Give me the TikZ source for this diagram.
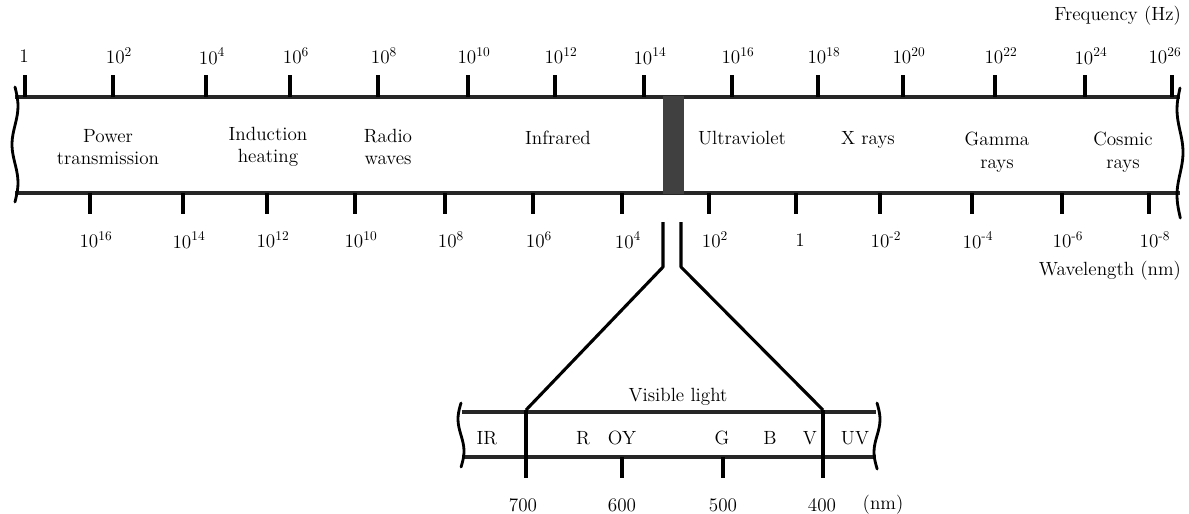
\documentclass[tikz,border=0pt]{standalone}
\usepackage{fontspec}
\begin{document}
\begin{tikzpicture}[x=0.025cm,y=-0.025cm,inner sep=0pt,outer sep=0pt,
lbl/.style={font=\fontsize{13.6}{16}\selectfont,align=center},
bandline/.style={line width=2.2pt,black!85},
tickline/.style={line width=2.4pt},
wavy/.style={line width=2pt,line cap=round},
zoomline/.style={line width=2.2pt,line join=round}]
\useasboundingbox (0,0) rectangle (1189,513);
% main band
\draw[bandline] (15,97) -- (1180,97);
\draw[bandline] (15,193) -- (1180,193);
\fill[black!75] (663,96) rectangle (684,194);
\draw[wavy] plot[smooth,domain=87:202,samples=30] ({15+3*sin(4.7*(\x-87))},\x);
\draw[wavy] plot[smooth,domain=88:218,samples=30] ({1180-3*sin(4.2*(\x-88))},\x);
% frequency scale
\draw[tickline] (25,75) -- (25,97);
\draw (24,56) node[lbl] (f0) {1};
\foreach \x/\e [count=\i] in {113/2,206/4,290/6,378/8,468/10,555/12,644/14,732/16,818/18,903/20,995/22,1085/24}{
  \draw[tickline] (\x,75) -- (\x,97);
  \draw (\x+6,56) node[lbl] (f\i) {10\textsuperscript{\e}};
}
\draw[tickline] (1172,75) -- (1172,97);
\draw (1165,56) node[lbl] (f13) {10\textsuperscript{26}};
\draw (1181,16) node[lbl,anchor=east] (fhz) {Frequency (Hz)};
% wavelength scale
\foreach \x/\e [count=\i] in {90/16,183/14,267/12,355/10,445/8,533/6,622/4,709/2,880/-2,972/-4,1062/-6,1149/-8}{
  \draw[tickline] (\x,193) -- (\x,214);
  \draw (\x+6,240) node[lbl] (w\i) {10\textsuperscript{\e}};
}
\draw[tickline] (796,193) -- (796,214);
\draw (800,240) node[lbl] (w0) {1};
\draw (1181,271) node[lbl,anchor=east] (wnm) {Wavelength (nm)};
% regions
\draw (108,147) node[lbl] (power) {Power\\transmission};
\draw (268,147) node[lbl] (induct) {Induction\\heating};
\draw (388,147) node[lbl] (radio) {Radio\\waves};
\draw (558,138) node[lbl] (ir) {Infrared};
\draw (742,138) node[lbl] (uv) {Ultraviolet};
\draw (868,140) node[lbl] (xray) {X rays};
\draw (997,152) node[lbl] (gamma) {Gamma\\rays};
\draw (1123,152) node[lbl] (cosmic) {Cosmic\\rays};
% zoom into visible part
\coordinate (za) at (663,222);
\coordinate (zb) at (681,222);
\coordinate (zc) at (526,410);
\coordinate (zd) at (823,410);
\draw[zoomline] (za) -- ++(0,45) -- (zc);
\draw[zoomline] (zb) -- ++(0,45) -- (zd);
% visible band
\draw[bandline] (462,412) -- (876,412);
\draw[bandline] (462,457) -- (876,457);
\draw[wavy] plot[smooth,domain=403:467,samples=20] ({461-3*sin(5.6*(\x-403))},\x);
\draw[wavy] plot[smooth,domain=403:469,samples=20] ({877+3*sin(5.5*(\x-403))},\x);
\draw[tickline] (zc) -- (526,478);
\draw[tickline] (zd) -- (823,478);
\draw[tickline] (622,457) -- (622,478);
\draw[tickline] (723,457) -- (723,478);
\draw (678,397) node[lbl] (vis) {Visible light};
\draw (487,438) node[lbl] (sir) {IR};
\draw (583,438) node[lbl] (sr) {R};
\draw (622,438) node[lbl] (soy) {OY};
\draw (722,438) node[lbl] (sg) {G};
\draw (770,438) node[lbl] (sb) {B};
\draw (810,438) node[lbl] (sv) {V};
\draw (855,438) node[lbl] (suv) {UV};
\draw (523,505) node[lbl] (n700) {700};
\draw (622,505) node[lbl] (n600) {600};
\draw (723,505) node[lbl] (n500) {500};
\draw (822,505) node[lbl] (n400) {400};
\draw (883,505) node[lbl] (nnm) {(nm)};
\end{tikzpicture}
\end{document}
